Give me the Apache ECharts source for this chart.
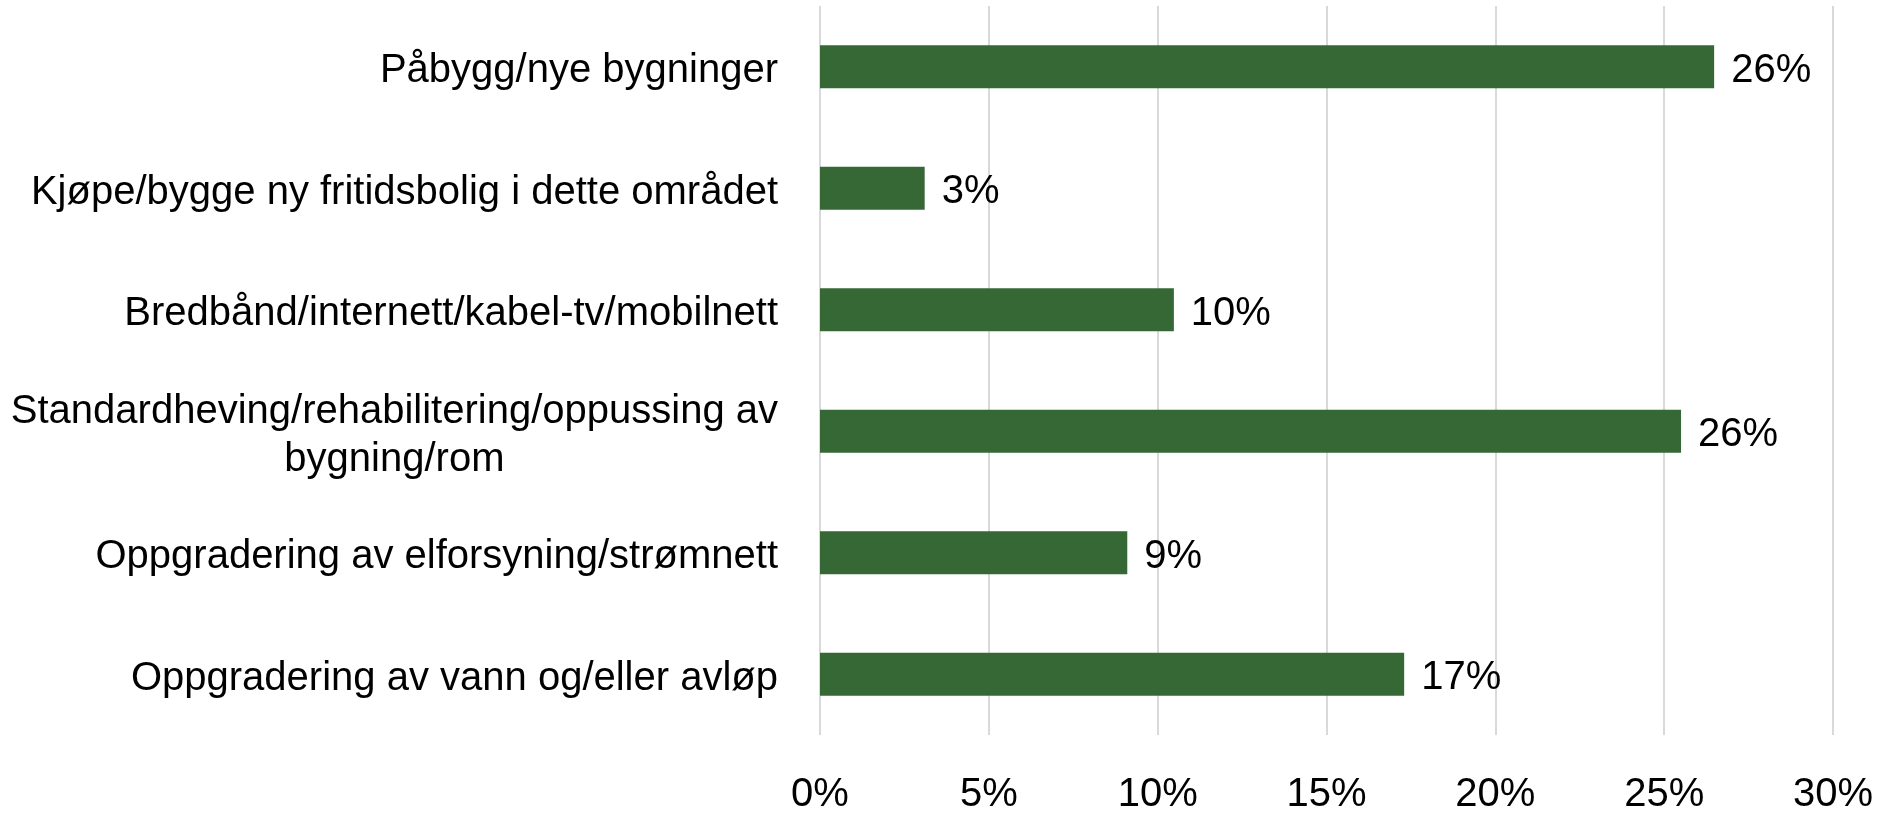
<!DOCTYPE html>
<html>
<head>
<meta charset="utf-8">
<script src="https://cdn.jsdelivr.net/npm/echarts@6/dist/echarts.min.js"></script>
<style>
  html, body { margin: 0; padding: 0; background: #fff; }
  #main { width: 1898px; height: 815px; }
</style>
</head>
<body>
<div id="main"></div>
<script>
// categories top to bottom
var categories = [
  'Påbygg/nye bygninger',
  'Kjøpe/bygge ny fritidsbolig i dette området',
  'Bredbånd/internett/kabel-tv/mobilnett',
  'Standardheving/rehabilitering/oppussing av\nbygning/rom',
  'Oppgradering av elforsyning/strømnett',
  'Oppgradering av vann og/eller avløp'
];
var values = [26.48, 3.1, 10.48, 25.5, 9.1, 17.3];
var xTicks = [0, 5, 10, 15, 20, 25, 30];

var font = '"Liberation Sans", Arial, sans-serif';
var fs = 40;

var chart = echarts.init(document.getElementById('main'));
var option = {
  animation: false,
  backgroundColor: '#fff',
  grid: { left: 820, right: 65, top: 6, bottom: 77 },
  xAxis: {
    type: 'value',
    min: xTicks[0],
    max: xTicks[xTicks.length - 1],
    interval: 5,
    axisLine: { show: false },
    axisTick: { show: false },
    splitLine: { show: true, lineStyle: { color: '#d9d9d9', width: 2 } },
    axisLabel: {
      formatter: '{value}%',
      color: '#000',
      fontSize: fs,
      fontFamily: font,
      margin: 40
    }
  },
  yAxis: {
    type: 'category',
    inverse: true,
    data: categories,
    axisLine: { show: false },
    axisTick: { show: false },
    axisLabel: {
      color: '#000',
      fontSize: fs,
      fontFamily: font,
      margin: 42,
      padding: [9, 0, 0, 0],
      formatter: function (v) {
        if (v.indexOf('\n') < 0) return v;
        return v.split('\n').map(function (l) { return '{c|' + l + '}'; }).join('\n');
      },
      rich: {
        c: { align: 'center', fontSize: fs, fontFamily: font, color: '#000', lineHeight: 48 }
      }
    }
  },
  series: [{
    type: 'bar',
    data: values,
    barWidth: 43,
    itemStyle: { color: '#366835' },
    label: {
      show: true,
      position: 'right',
      distance: 17,
      offset: [0, 4],
      color: '#000',
      fontSize: fs,
      fontFamily: font,
      formatter: function (p) { return Math.round(p.value) + '%'; }
    }
  }]
};
chart.setOption(option);
</script>
</body>
</html>
